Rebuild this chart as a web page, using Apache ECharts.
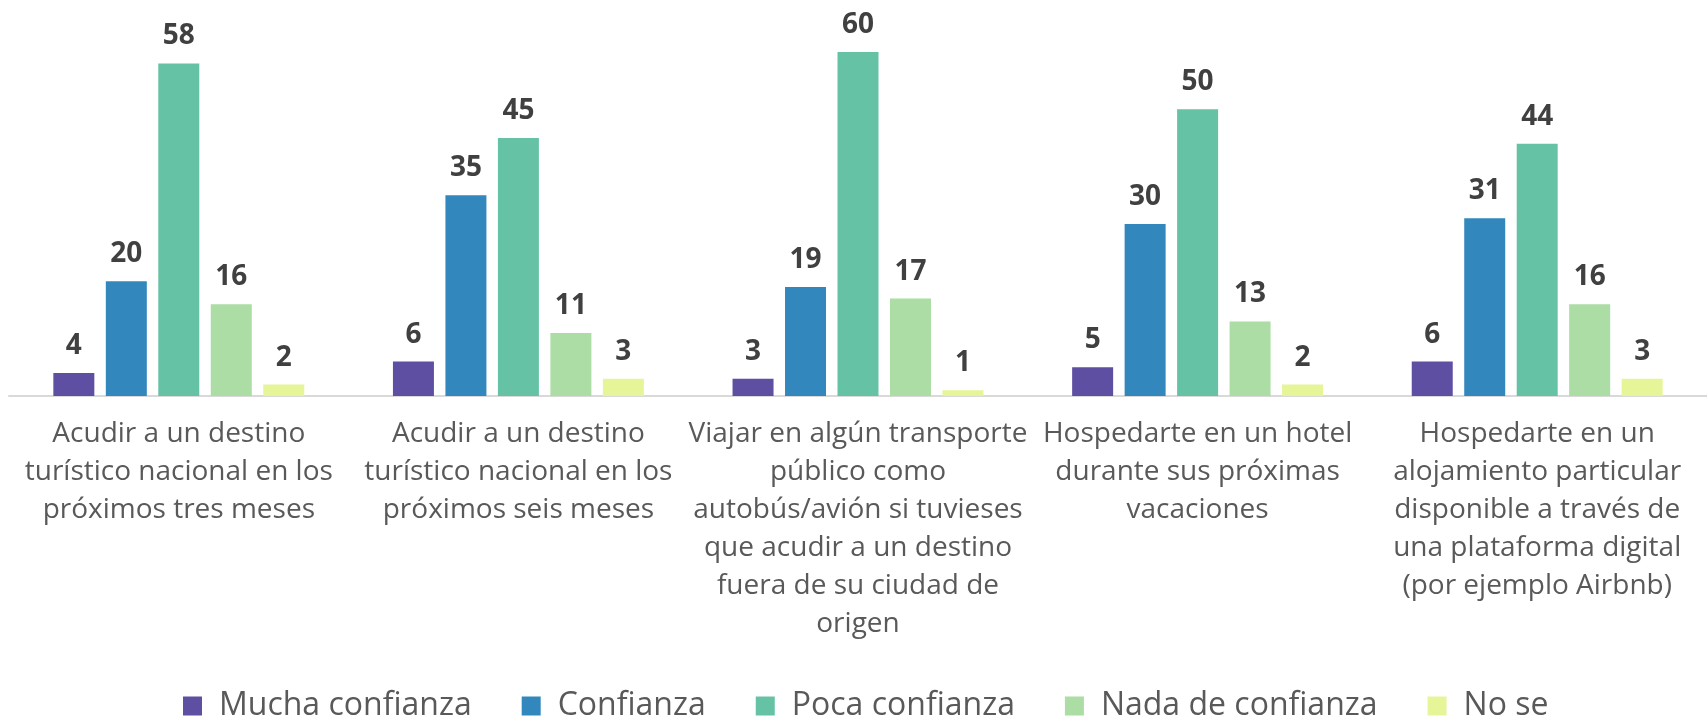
<!DOCTYPE html>
<html>
<head>
<meta charset="utf-8">
<script src="https://cdn.jsdelivr.net/npm/echarts@6/dist/echarts.min.js"></script>
<style>
html, body { margin: 0; padding: 0; background: #fff; }
#main { width: 1707px; height: 720px; }
</style>
</head>
<body>
<div id="main"></div>
<script>
const categories = [
	'Acudir a un destino\nturístico nacional en los\npróximos tres meses',
	'Acudir a un destino\nturístico nacional en los\npróximos seis meses',
	'Viajar en algún transporte\npúblico como\nautobús/avión si tuvieses\nque acudir a un destino\nfuera de su ciudad de\norigen',
	'Hospedarte en un hotel\ndurante sus próximas\nvacaciones',
	'Hospedarte en un\nalojamiento particular\ndisponible a través de\nuna plataforma digital\n(por ejemplo Airbnb)'
];
const seriesNames = ['Mucha confianza', 'Confianza', 'Poca confianza', 'Nada de confianza', 'No se'];
const muchaConfianza = [4, 6, 3, 5, 6];
const confianza = [20, 35, 19, 30, 31];
const pocaConfianza = [58, 45, 60, 50, 44];
const nadaConfianza = [16, 11, 17, 13, 16];
const noSe = [2, 3, 1, 2, 3];
const colorList = ['#5e4fa2', '#3288bd', '#66c2a5', '#abdda4', '#e6f598'];

let chart = echarts.init(document.getElementById('main'));
const allData = [muchaConfianza, confianza, pocaConfianza, nadaConfianza, noSe];

let series = allData.map(function (d, i) {
	return {
		name: seriesNames[i],
		type: 'bar',
		data: d,
		barWidth: 41,
		barGap: '28%',
		itemStyle: { color: colorList[i] },
		label: {
			show: true,
			position: 'top',
			distance: 13,
			color: '#404040',
			fontFamily: 'Open Sans',
			fontWeight: 'bold',
			fontSize: 28
		}
	};
});

option = {
	backgroundColor: '#fff',
	color: colorList,
	animation: false,
	grid: {
		left: 9,
		right: 0,
		top: 52,
		bottom: 324,
		containLabel: false
	},
	legend: {
		data: seriesNames,
		left: 183,
		top: 690,
		padding: 0,
		icon: 'rect',
		itemWidth: 19,
		itemHeight: 19,
		itemGap: 50,
		textStyle: {
			color: '#595959',
			fontFamily: 'Open Sans',
			fontSize: 32,
			padding: [0, 0, 0, 12]
		}
	},
	xAxis: {
		type: 'category',
		data: categories,
		axisTick: { show: false },
		axisLine: { show: true, lineStyle: { color: '#d9d9d9', width: 2 } },
		axisLabel: {
			interval: 0,
			color: '#595959',
			fontFamily: 'Open Sans',
			fontSize: 28,
			lineHeight: 38,
			margin: 19
		}
	},
	yAxis: {
		type: 'value',
		min: 0,
		max: 60,
		show: false,
		splitLine: { show: false }
	},
	series: series
};

chart.setOption(option);

window.onresize = function () {
	chart.resize();
};
</script>
</body>
</html>
